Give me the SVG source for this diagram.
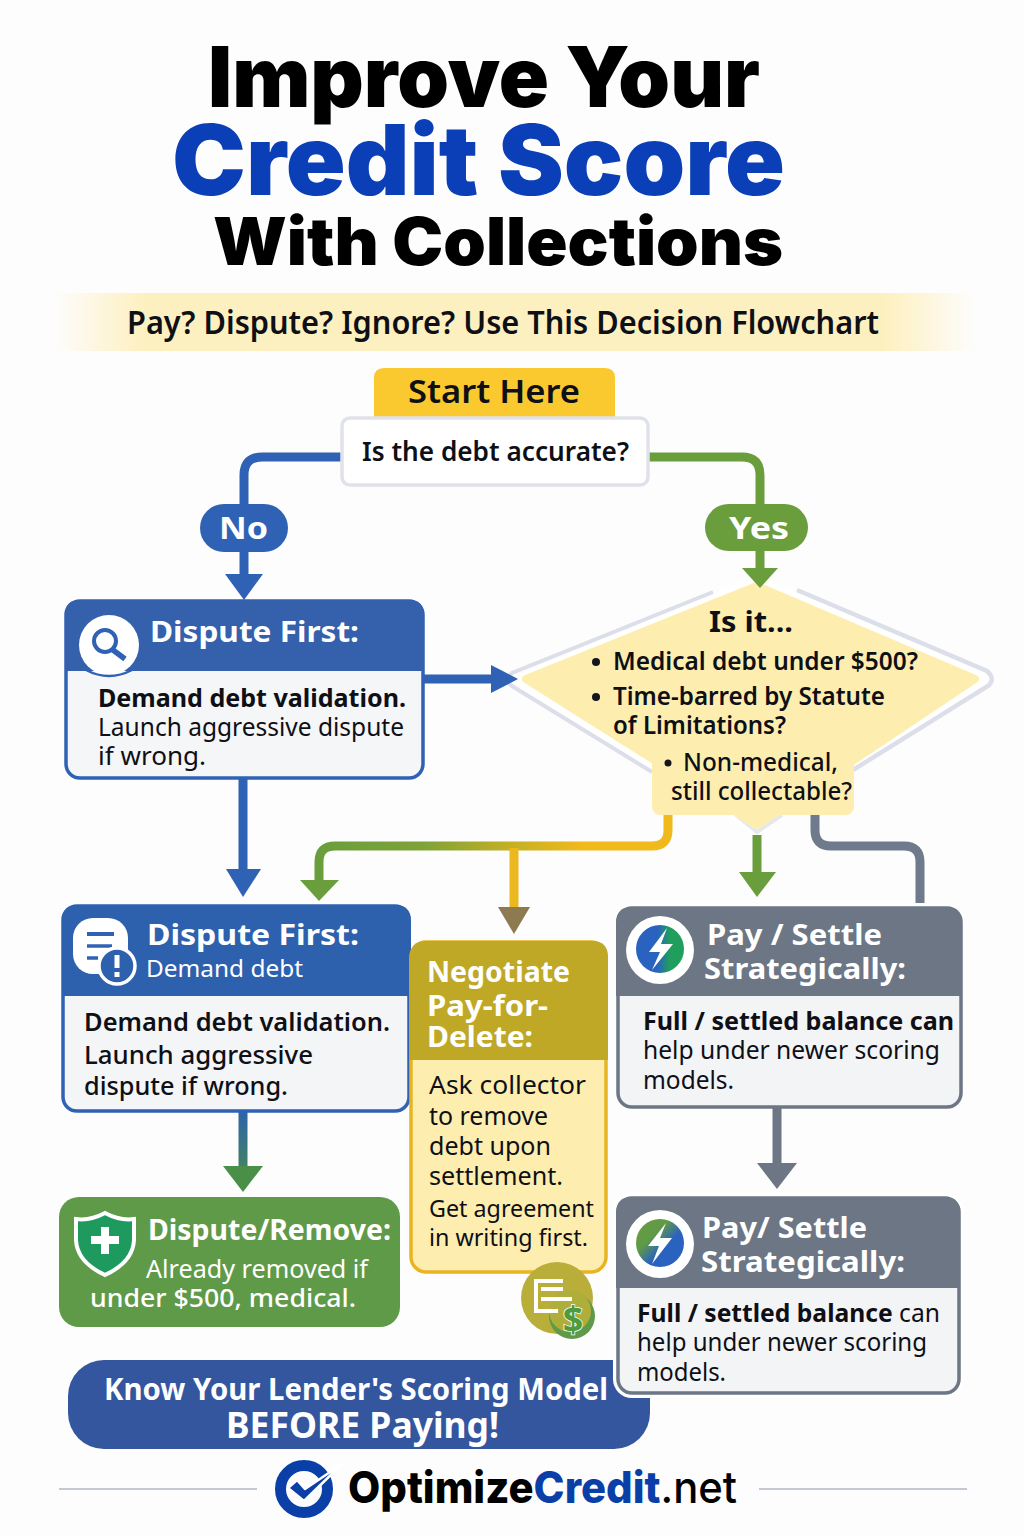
<svg xmlns="http://www.w3.org/2000/svg" width="1024" height="1536" viewBox="0 0 1024 1536">
<style>
text{font-family:"Noto Sans","Open Sans","Liberation Sans",sans-serif;fill:#0e1016}
.b{font-weight:700}.sb{font-weight:600}.m{font-weight:500}
.w{fill:#fff}
.title{font-family:Inter,"Noto Sans",sans-serif;font-weight:900;fill:#000}
.c{fill:none;stroke-width:9}
</style>
<defs>
<linearGradient id="band" x1="0" x2="1" y1="0" y2="0"><stop offset="0" stop-color="#fdf0c0" stop-opacity="0"/><stop offset=".1" stop-color="#fdf0c0"/><stop offset=".9" stop-color="#fdf0c0"/><stop offset="1" stop-color="#fdf0c0" stop-opacity="0"/></linearGradient>
<linearGradient id="gy" gradientUnits="userSpaceOnUse" x1="319" x2="668" y1="0" y2="0"><stop offset="0" stop-color="#6a9e3c"/><stop offset=".3" stop-color="#7fa238"/><stop offset=".55" stop-color="#c4b024"/><stop offset=".75" stop-color="#f0b91c"/><stop offset="1" stop-color="#f0b91c"/></linearGradient>
<linearGradient id="bg" x1="0" x2="1" y1="0" y2="0"><stop offset="0" stop-color="#2a62c0"/><stop offset=".45" stop-color="#2a62c0"/><stop offset=".7" stop-color="#1f9e5c"/></linearGradient>
<linearGradient id="gb" x1="0" x2="1" y1="0" y2="1"><stop offset="0" stop-color="#6a9e3c"/><stop offset=".35" stop-color="#5f9a48"/><stop offset=".6" stop-color="#2a62c0"/></linearGradient>
<linearGradient id="bgv" gradientUnits="userSpaceOnUse" x1="0" x2="0" y1="1112" y2="1192"><stop offset="0" stop-color="#2d64a8"/><stop offset="1" stop-color="#4a8f48"/></linearGradient>
</defs>
<rect width="1024" height="1536" fill="#fdfdfe"/>

<g id="title">
<text class="title" x="208" y="107" font-size="84" textLength="552" lengthAdjust="spacingAndGlyphs">Improve Your</text>
<text class="title" x="172" y="195" font-size="97" textLength="613" lengthAdjust="spacingAndGlyphs" style="fill:#0b3fb8">Credit Score</text>
<text class="title" x="213" y="265" font-size="66" textLength="570" lengthAdjust="spacingAndGlyphs">With Collections</text>
</g>
<g id="subtitle">
<rect x="52" y="293" width="925" height="58" fill="url(#band)"/>
<text class="sb" x="127" y="334" font-size="32" textLength="752" lengthAdjust="spacingAndGlyphs">Pay? Dispute? Ignore? Use This Decision Flowchart</text>
</g>

<g id="diamond">
<path d="M757 579L990 677L757 832L512 680Z" fill="#fff" stroke="#fff" stroke-width="6" stroke-linejoin="round"/>
<path d="M713 592L512 673Q504 680 512 686L652 772" fill="none" stroke="#dcdfea" stroke-width="4"/>
<path d="M797 590L987 671Q996 679 988 686L853 770" fill="none" stroke="#dcdfea" stroke-width="4.500"/>
<path d="M736 815L757 832L782 815" fill="none" stroke="#e6e8ef" stroke-width="4"/>
<path d="M757 586L975 679L757 825L526 679Z" fill="#fdeeb0" stroke="#fdeeb0" stroke-width="8" stroke-linejoin="round"/>
<rect x="652" y="744" width="202" height="71" rx="8" fill="#fdeeb0"/>
<text class="b" x="709" y="632" font-size="28" textLength="84" lengthAdjust="spacingAndGlyphs">Is it...</text>
<circle cx="596" cy="662" r="4" fill="#14161c"/>
<text class="sb" x="613" y="670" font-size="25" textLength="305" lengthAdjust="spacingAndGlyphs">Medical debt under $500?</text>
<circle cx="596" cy="697" r="4" fill="#14161c"/>
<text class="sb" x="613" y="705" font-size="25" textLength="272" lengthAdjust="spacingAndGlyphs">Time-barred by Statute</text>
<text class="sb" x="613" y="734" font-size="25" textLength="173" lengthAdjust="spacingAndGlyphs">of Limitations?</text>
<circle cx="668" cy="763" r="3.500" fill="#14161c"/>
<text class="m" x="683" y="771" font-size="25" textLength="155" lengthAdjust="spacingAndGlyphs">Non-medical,</text>
<text class="m" x="671" y="800" font-size="25" textLength="181" lengthAdjust="spacingAndGlyphs">still collectable?</text>
</g>

<g id="connectors">
<path class="c" stroke="#2f62b4" d="M342 457H262Q244 457 244 475V510"/>
<path class="c" stroke="#2f62b4" d="M244 550V578"/>
<path d="M225 574H263L244 600Z" fill="#2f62b4"/>
<path class="c" stroke="#6a9e3c" d="M648 457H742Q760 457 760 475V510"/>
<path class="c" stroke="#6a9e3c" d="M760 548V570"/>
<path d="M742 568H778L760 588Z" fill="#6a9e3c"/>
<path class="c" stroke="#2f62b4" d="M423 679H495"/>
<path d="M491 665L518 679L491 693Z" fill="#2f62b4"/>
<path class="c" stroke="#2f62b4" d="M243 778V872"/>
<path d="M226 869H261L243 897Z" fill="#2f62b4"/>
<path class="c" stroke="url(#gy)" d="M668 815V830Q668 846 652 846H335Q319 846 319 862V882"/>
<path d="M300 880H339L319 901Z" fill="#6a9e3c"/>
<path class="c" stroke="#ecb820" d="M514 848V908"/>
<path d="M498 907H530L514 934Z" fill="#8e7a50"/>
<path class="c" stroke="#6a9e3c" d="M757 835V873"/>
<path d="M739 872H776L757 897Z" fill="#6a9e3c"/>
<path class="c" stroke="#6f7a8c" d="M815 815V830Q815 846 831 846H904Q920 846 920 862V903"/>
<path class="c" stroke="#6c7684" d="M777 1107V1165"/>
<path d="M757 1163H797L777 1189Z" fill="#6c7684"/>
<path class="c" stroke="url(#bgv)" d="M243 1112V1168"/>
<path d="M223 1166H263L243 1192Z" fill="#4a8f48"/>
</g>

<g id="start">
<path d="M374 418V378Q374 368 384 368H605Q615 368 615 378V418Z" fill="#f9c92f"/>
<text class="sb" x="408" y="403" font-size="32" textLength="172" lengthAdjust="spacingAndGlyphs">Start Here</text>
</g>
<g id="q1">
<rect x="342" y="418" width="306" height="67" rx="8" fill="#fff" stroke="#dfe2ea" stroke-width="3.5"/>
<text class="sb" x="362" y="461" font-size="27" textLength="267" lengthAdjust="spacingAndGlyphs">Is the debt accurate?</text>
</g>
<g id="no">
<rect x="200" y="504" width="88" height="48" rx="24" fill="#2f62b4"/>
<text class="b w" x="219" y="539" font-size="31" textLength="49" lengthAdjust="spacingAndGlyphs">No</text>
</g>
<g id="yes">
<rect x="705" y="504" width="103" height="47" rx="23.500" fill="#6a9e3c"/>
<text class="b w" x="729" y="539" font-size="31" textLength="60" lengthAdjust="spacingAndGlyphs">Yes</text>
</g>

<g id="dispute1">
<rect x="66" y="601" width="357" height="177" rx="14" fill="#f5f6f8" stroke="#2f62b4" stroke-width="3.500"/>
<path d="M65 671V615Q65 600 80 600H409Q424 600 424 615V671Z" fill="#3460ac"/>
<circle cx="109" cy="645" r="30" fill="#fff"/>
<path d="M86 670Q109 682 132 670" fill="none" stroke="#2f62b4" stroke-width="2.500"/>
<circle cx="105" cy="641" r="11" fill="none" stroke="#2f62b4" stroke-width="4"/>
<path d="M113 650L125 659" stroke="#2f62b4" stroke-width="5.500"/>
<text class="b w" x="150" y="642" font-size="29" textLength="209" lengthAdjust="spacingAndGlyphs">Dispute First:</text>
<text class="b" x="98" y="707" font-size="25" textLength="308" lengthAdjust="spacingAndGlyphs">Demand debt validation.</text>
<text x="98" y="736" font-size="25" textLength="306" lengthAdjust="spacingAndGlyphs">Launch aggressive dispute</text>
<text x="98" y="765" font-size="25" textLength="108" lengthAdjust="spacingAndGlyphs">if wrong.</text>
</g>

<g id="dispute2">
<rect x="63" y="906" width="346" height="205" rx="14" fill="#f4f5f7" stroke="#2f62b4" stroke-width="3.500"/>
<path d="M62 996V921Q62 905 78 905H395Q411 905 411 921V996Z" fill="#2d60ad"/>
<rect x="73" y="918" width="55" height="56" rx="20" fill="#fff"/>
<path d="M87 934H114" stroke="#2f62b4" stroke-width="4" fill="none"/>
<path d="M87 946H112" stroke="#2f62b4" stroke-width="3.500" fill="none"/>
<path d="M87 958H98" stroke="#2f62b4" stroke-width="3.500" fill="none"/>
<circle cx="117" cy="966" r="18" fill="#2d60ad" stroke="#fff" stroke-width="3.500"/>
<path d="M117 955V968M117 972V977" stroke="#fff" stroke-width="5" fill="none"/>
<text class="b w" x="147" y="945" font-size="29" textLength="212" lengthAdjust="spacingAndGlyphs">Dispute First:</text>
<text class="w" x="146" y="977" font-size="23" textLength="157" lengthAdjust="spacingAndGlyphs">Demand debt</text>
<text class="sb" x="84" y="1031" font-size="25" textLength="306" lengthAdjust="spacingAndGlyphs">Demand debt validation.</text>
<text class="m" x="84" y="1064" font-size="25" textLength="229" lengthAdjust="spacingAndGlyphs">Launch aggressive</text>
<text class="m" x="84" y="1095" font-size="25" textLength="204" lengthAdjust="spacingAndGlyphs">dispute if wrong.</text>
</g>

<g id="remove">
<rect x="59" y="1197" width="341" height="130" rx="20" fill="#5f9a48"/>
<path d="M105 1213Q120 1221 134 1219V1240Q133 1262 105 1275Q77 1262 76 1240V1219Q90 1221 105 1213Z" fill="#1f9a5e" stroke="#fff" stroke-width="4"/>
<path d="M105 1227V1254M91 1240H119" stroke="#fff" stroke-width="8"/>
<text class="b w" x="148" y="1240" font-size="28" textLength="243" lengthAdjust="spacingAndGlyphs">Dispute/Remove:</text>
<text class="w" x="146" y="1278" font-size="25" textLength="222" lengthAdjust="spacingAndGlyphs">Already removed if</text>
<text class="w m" x="90" y="1307" font-size="25" textLength="266" lengthAdjust="spacingAndGlyphs">under $500, medical.</text>
</g>

<g id="negotiate">
<rect x="411" y="942" width="195" height="330" rx="15" fill="#fdeeb0" stroke="#e9b422" stroke-width="3.500"/>
<path d="M410 1060V957Q410 941 426 941H592Q608 941 608 957V1060Z" fill="#bfa826"/>
<text class="b w" x="427" y="982" font-size="29" textLength="143" lengthAdjust="spacingAndGlyphs">Negotiate</text>
<text class="b w" x="427" y="1016" font-size="29" textLength="121" lengthAdjust="spacingAndGlyphs">Pay-for-</text>
<text class="b w" x="427" y="1047" font-size="29" textLength="106" lengthAdjust="spacingAndGlyphs">Delete:</text>
<text x="429" y="1094" font-size="25" textLength="157" lengthAdjust="spacingAndGlyphs">Ask collector</text>
<text x="429" y="1125" font-size="25" textLength="119" lengthAdjust="spacingAndGlyphs">to remove</text>
<text x="429" y="1155" font-size="25" textLength="122" lengthAdjust="spacingAndGlyphs">debt upon</text>
<text x="429" y="1185" font-size="25" textLength="134" lengthAdjust="spacingAndGlyphs">settlement.</text>
<text x="429" y="1217" font-size="24" textLength="165" lengthAdjust="spacingAndGlyphs">Get agreement</text>
<text x="429" y="1246" font-size="24" textLength="159" lengthAdjust="spacingAndGlyphs">in writing first.</text>
<circle cx="557" cy="1298" r="36" fill="#b9ae3a"/>
<circle cx="572" cy="1316" r="23" fill="#5f9a48"/>
<circle cx="570" cy="1311" r="21" fill="#b0ae3a"/>
<path d="M558 1311H536V1281H563M541 1289H563M541 1299H572" fill="none" stroke="#fff" stroke-width="4"/>
<text class="b" x="573" y="1332" font-size="36" text-anchor="middle" style="fill:#4f9a3c;stroke:#fff;stroke-width:1.500;paint-order:stroke">$</text>
</g>

<g id="banner">
<rect x="68" y="1360" width="582" height="89" rx="36" fill="#33569f"/>
<text class="b w" x="104" y="1400" font-size="30" textLength="504" lengthAdjust="spacingAndGlyphs">Know Your Lender's Scoring Model</text>
<text class="b w" x="226" y="1438" font-size="35" textLength="273" lengthAdjust="spacingAndGlyphs">BEFORE Paying!</text>
</g>

<g id="pay1">
<rect x="618" y="908" width="343" height="199" rx="14" fill="#f3f4f6" stroke="#6c7684" stroke-width="3.500"/>
<path d="M616 996V923Q616 907 632 907H946Q962 907 962 923V996Z" fill="#6c7684"/>
<circle cx="660" cy="950" r="34" fill="#fff"/>
<circle cx="660" cy="949" r="24" fill="url(#bg)"/>
<path d="M667 928L649 952H660L652 970L673 944H661Z" fill="#fff"/>
<text class="b w" x="707" y="945" font-size="29" textLength="175" lengthAdjust="spacingAndGlyphs">Pay / Settle</text>
<text class="b w" x="704" y="979" font-size="29" textLength="202" lengthAdjust="spacingAndGlyphs">Strategically:</text>
<text class="b" x="643" y="1030" font-size="25" textLength="311" lengthAdjust="spacingAndGlyphs">Full / settled balance can</text>
<text x="643" y="1059" font-size="25" textLength="297" lengthAdjust="spacingAndGlyphs">help under newer scoring</text>
<text x="643" y="1089" font-size="25" textLength="91" lengthAdjust="spacingAndGlyphs">models.</text>
</g>

<g id="pay2">
<rect x="618" y="1198" width="341" height="195" rx="14" fill="#f3f4f6" stroke="#fff" stroke-width="10"/>
<rect x="618" y="1198" width="341" height="195" rx="14" fill="#f3f4f6" stroke="#6c7684" stroke-width="3.500"/>
<path d="M616 1288V1213Q616 1197 632 1197H944Q960 1197 960 1213V1288Z" fill="#6c7684"/>
<circle cx="660" cy="1244" r="34" fill="#fff"/>
<circle cx="660" cy="1243" r="24" fill="url(#gb)"/>
<path d="M666 1223L648 1246H659L652 1264L672 1238H660Z" fill="#fff"/>
<text class="b w" x="702" y="1238" font-size="29" textLength="165" lengthAdjust="spacingAndGlyphs">Pay/ Settle</text>
<text class="b w" x="701" y="1272" font-size="29" textLength="204" lengthAdjust="spacingAndGlyphs">Strategically:</text>
<text x="637" y="1322" font-size="25" textLength="303" lengthAdjust="spacingAndGlyphs"><tspan class="b">Full / settled balance</tspan> can</text>
<text x="637" y="1351" font-size="25" textLength="290" lengthAdjust="spacingAndGlyphs">help under newer scoring</text>
<text x="637" y="1381" font-size="25" textLength="89" lengthAdjust="spacingAndGlyphs">models.</text>
</g>

<g id="footer">
<path d="M59 1489H257M759 1489H967" stroke="#c4c8d4" stroke-width="2" fill="none"/>
<circle cx="304" cy="1489" r="23.500" fill="none" stroke="#0b3fa8" stroke-width="11"/>
<path d="M288 1488L297 1480L305 1489L342 1464L304 1501Z" fill="#0b3fa8" stroke="#fff" stroke-width="2.500" stroke-linejoin="round"/>
<text class="title" x="348" y="1503" font-size="44" textLength="389" lengthAdjust="spacingAndGlyphs" style="font-weight:800"><tspan>Optimize</tspan><tspan style="fill:#0b3fa8">Credit</tspan><tspan style="font-weight:500;fill:#000">.net</tspan></text>
</g>
</svg>
